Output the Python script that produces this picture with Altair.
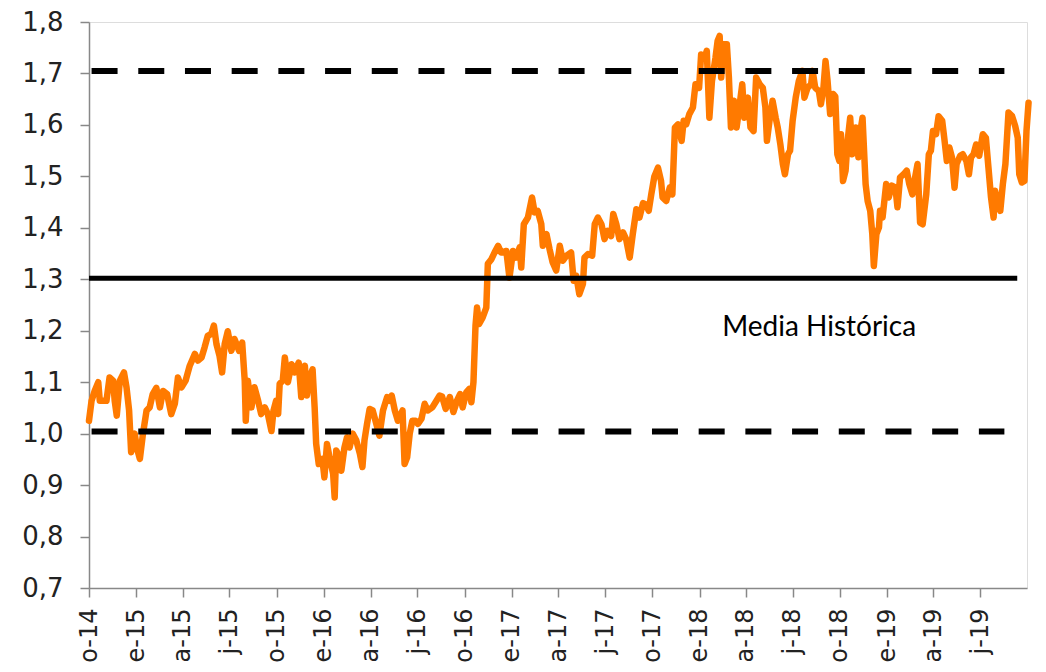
import altair as alt
import pandas as pd

START = "2014-10-01"

# days since 2014-10-01 and ratio values
days = [0,5,11,18,21,27,34,40,47,50,54,60,68,73,78,82,89,93,99,105,112,118,124,131,138,144,152,160,167,173,180,188,196,206,212,219,225,231,238,243,248,254,259,264,270,277,283,292,298,303,305,309,316,322,329,335,342,348,355,359,
        364,368,371,377,381,387,394,400,408,413,420,424,429,435,439,442,447,454,458,463,468,475,478,481,488,491,497,502,507,513,520,527,532,536,541,546,552,559,565,572,580,585,589,595,601,610,614,619,624,629,635,640,647,653,659,668,676,682,687,694,702,709,716,722,727,734,740,744,748,752,755,759,766,773,776,783,789,796,802,812,818,825,831,838,841,846,854,862,867,873,880,883,890,896,902,909,916,922,929,938,943,948,954,961,964,971,979,984,990,997,1003,1009,1016,1020,1026,1032,1039,1045,1052,1058,1065,1071,1078,1084,1089,1094,1100,1107,1113,1116,1123,1130,1135,1140,1146,1153,1157,1162,1168,1175,1180,1187,1191,1198,1202,1207,1212,1219,1223,1227,1230,1234,1241,1245,1249,1255,1260,1266,1271,1275,1282,1287,1293,1298,1305,1311,1316,1319,1324,1330,1336,1340,1345,1350,1354,1360,1364,1369,1375,1381,1388,1392,1398,1405,1408,1413,1420,1424,1429,1433,1437,1442,1448,1452,1456,1460,1463,1467,1472,1476,1481,1485,1489,1492,1497,1502,1505,1511,1515,1520,1524,1527,1532,1537,1539,1544,1551,1556,1562,1569,1573,1578,1585,1591,1596,1602,1606,1612,1617,1622,1629,1634,1638,1642,1648,1653,1660,1664,1669,1674,1679,1684,1688,1695,1700,1707,1712,1716,1721,1726,1732,1739,1745,1750,1755,1760,1763,1768,1773,1778,1783,1789,1796,1802,1807,1810,1815,1820,1824,1828]

values = [1.025,1.064,1.083,1.100,1.064,1.064,1.064,1.109,1.103,1.064,1.035,1.103,1.119,1.090,1.045,0.964,1.000,0.973,0.951,1.000,1.045,1.051,1.077,1.089,1.051,1.083,1.077,1.038,1.058,1.109,1.090,1.103,1.132,1.155,1.142,1.148,1.168,1.190,1.194,1.210,1.174,1.151,1.119,1.174,1.199,1.161,1.184,1.161,1.177,1.103,1.025,1.103,1.051,1.090,1.064,1.038,1.051,1.038,1.005,1.045,
          1.064,1.038,1.097,1.103,1.148,1.100,1.135,1.119,1.138,1.071,1.132,1.074,1.109,1.125,1.051,0.980,0.941,0.951,0.915,0.980,0.954,0.922,0.876,0.967,0.954,0.928,0.973,0.993,0.973,1.000,0.987,0.961,0.935,0.987,1.019,1.048,1.045,1.019,0.996,1.045,1.071,1.064,1.074,1.045,1.025,1.045,0.941,0.954,1.000,1.025,1.025,1.019,1.029,1.058,1.045,1.051,1.064,1.074,1.072,1.048,1.071,1.042,1.064,1.077,1.051,1.080,1.087,1.061,1.100,1.210,1.245,1.213,1.226,1.245,1.330,1.339,1.352,1.365,1.352,1.355,1.303,1.355,1.342,1.362,1.323,1.407,1.420,1.459,1.430,1.433,1.407,1.365,1.388,1.359,1.333,1.317,1.365,1.336,1.346,1.352,1.297,1.307,1.271,1.291,1.342,1.349,1.346,1.407,1.420,1.407,1.378,1.394,1.384,1.427,1.407,1.378,1.391,1.378,1.342,1.388,1.436,1.420,1.448,1.445,1.433,1.465,1.500,1.517,1.491,1.459,1.452,1.478,1.465,1.595,1.601,1.569,1.608,1.601,1.621,1.634,1.679,1.672,1.737,1.731,1.744,1.614,1.685,1.731,1.763,1.773,1.692,1.757,1.757,1.692,1.595,1.647,1.595,1.640,1.679,1.614,1.653,1.595,1.588,1.692,1.679,1.672,1.634,1.569,1.608,1.647,1.614,1.595,1.563,1.524,1.504,1.543,1.550,1.608,1.653,1.685,1.705,1.653,1.672,1.679,1.705,1.672,1.666,1.640,1.672,1.724,1.685,1.621,1.660,1.655,1.543,1.530,1.582,1.491,1.511,1.569,1.614,1.543,1.562,1.595,1.537,1.595,1.614,1.485,1.452,1.433,1.388,1.326,1.388,1.401,1.433,1.420,1.485,1.459,1.482,1.478,1.440,1.498,1.504,1.511,1.485,1.465,1.491,1.524,1.410,1.407,1.465,1.543,1.550,1.588,1.582,1.617,1.608,1.575,1.530,1.556,1.537,1.478,1.524,1.540,1.543,1.530,1.504,1.537,1.543,1.562,1.540,1.582,1.575,1.517,1.459,1.420,1.472,1.446,1.433,1.485,1.524,1.624,1.617,1.598,1.575,1.504,1.488,1.491,1.588,1.643]

# reference lines: (value, start day, end day, style)
ref_values = [1.705, 1.004, 1.302]
ref_start = [5, 5, 0]
ref_end = [1781, 1781, 1806]
ref_style = ["dashed", "dashed", "solid"]

label_text = "Media Histórica"
label_day = 1232
label_value = 1.189

tick_dates = ["2014-10-01","2015-01-01","2015-04-01","2015-07-01","2015-10-01","2016-01-01","2016-04-01","2016-07-01","2016-10-01","2017-01-01","2017-04-01","2017-07-01","2017-10-01","2018-01-01","2018-04-01","2018-07-01","2018-10-01","2019-01-01","2019-04-01","2019-07-01"]
y_ticks = [0.7,0.8,0.9,1.0,1.1,1.2,1.3,1.4,1.5,1.6,1.7,1.8]

base = pd.Timestamp(START)
df = pd.DataFrame({"date": base + pd.to_timedelta(days, unit="D"), "v": values})
refs = pd.DataFrame({
    "v": ref_values,
    "start": base + pd.to_timedelta(ref_start, unit="D"),
    "end": base + pd.to_timedelta(ref_end, unit="D"),
    "style": ref_style,
})
lab = pd.DataFrame({"date": [base + pd.Timedelta(days=label_day)], "v": [label_value], "t": [label_text]})

xdomain = [alt.DateTime(year=2014, month=10, date=1), alt.DateTime(year=2019, month=9, date=30)]
xvals = [alt.DateTime(year=int(s[:4]), month=int(s[5:7]), date=1) for s in tick_dates]

xscale = alt.Scale(domain=xdomain)
yscale = alt.Scale(domain=[0.7, 1.8], nice=False, zero=False)

xaxis = alt.Axis(
    values=xvals,
    labelExpr="(month(datum.value)==0?'e':month(datum.value)==3?'a':month(datum.value)==6?'j':'o') + '-' + timeFormat(datum.value, '%y')",
    labelAngle=270, labelFont="DejaVu Sans", labelFontSize=24, labelColor="#222222",
    labelPadding=11, tickSize=9, tickColor="#888888", tickWidth=1.5,
    domainColor="#888888", domainWidth=1.5, grid=False, title=None,
)
yaxis = alt.Axis(
    values=y_ticks,
    labelExpr="replace(format(datum.value, '.1f'), '.', ',')",
    labelFont="DejaVu Sans", labelFontSize=26, labelColor="#222222",
    labelPadding=17, tickSize=9, tickColor="#888888", tickWidth=1.5,
    domainColor="#888888", domainWidth=1.5, grid=False, title=None,
)

line = alt.Chart(df).mark_line(color="#FF7A00", strokeWidth=6.5, strokeJoin="round", strokeCap="round", clip=False).encode(
    x=alt.X("date:T", scale=xscale, axis=xaxis),
    y=alt.Y("v:Q", scale=yscale, axis=yaxis),
)

dashed = alt.Chart(refs).transform_filter(alt.datum.style == "dashed").mark_rule(
    color="black", strokeWidth=6, strokeDash=[26, 20.7]
).encode(x="start:T", x2="end:T", y="v:Q")

solid = alt.Chart(refs).transform_filter(alt.datum.style == "solid").mark_rule(
    color="black", strokeWidth=5
).encode(x="start:T", x2="end:T", y="v:Q")

text = alt.Chart(lab).mark_text(
    align="left", baseline="alphabetic", font="Lato", fontSize=28, color="black"
).encode(x="date:T", y="v:Q", text="t:N")

chart = alt.layer(line, dashed, solid, text).properties(
    width=938, height=566,
    padding={"left": 81, "top": 14, "right": 5, "bottom": 80},
    autosize=alt.AutoSizeParams(type="none"),
).configure_view(stroke=None).configure(background="white")

chart.save("out.html", embed_options={"renderer": "svg", "actions": False})
